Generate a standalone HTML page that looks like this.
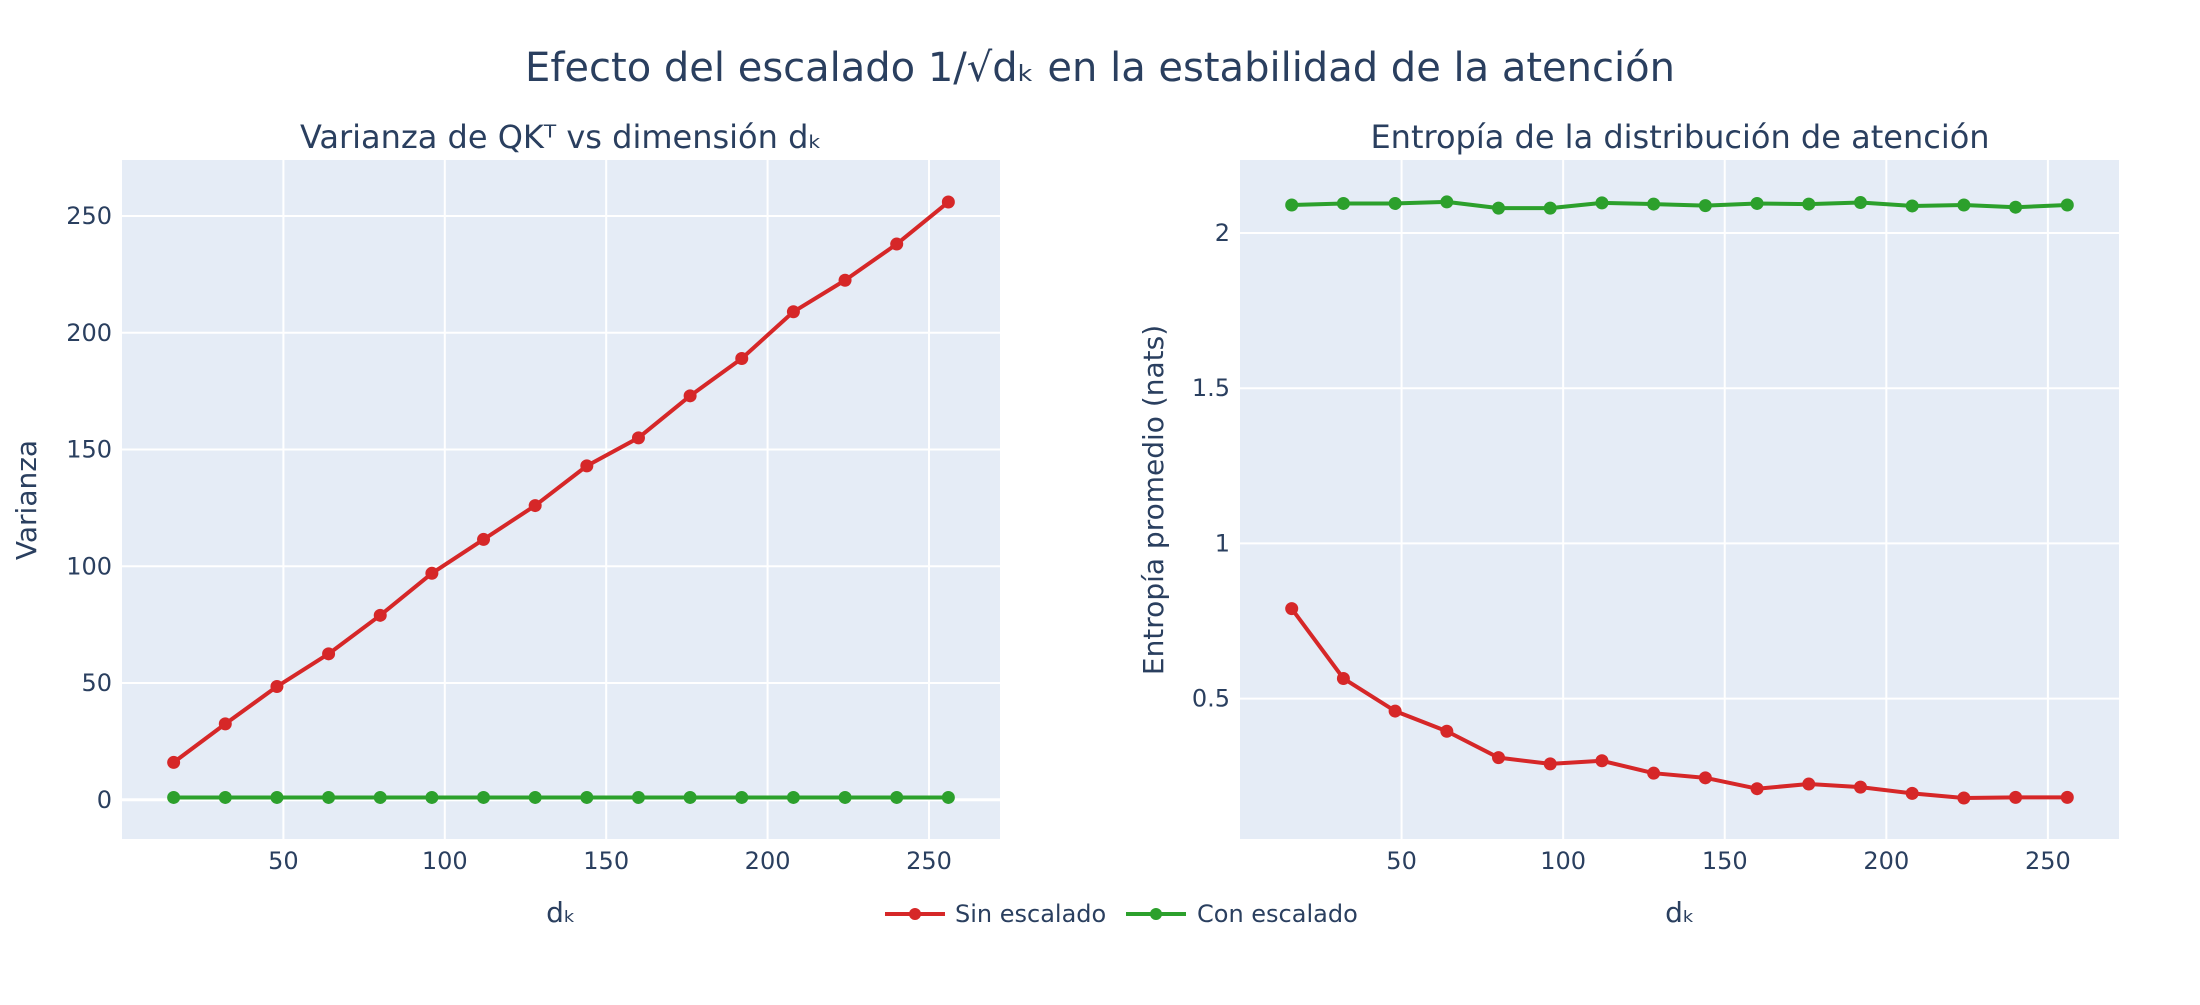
<!DOCTYPE html>
<html><head><meta charset="utf-8"><style>
html,body{margin:0;padding:0;background:#fff;}
svg text{font-family:"DejaVu Sans","Liberation Sans",sans-serif;fill:#2a3f5f;}
</style></head><body>
<svg id="chart" width="2200" height="1000" xmlns="http://www.w3.org/2000/svg">
<text x="1100" y="81" font-size="40" text-anchor="middle">Efecto del escalado 1/√dₖ en la estabilidad de la atención</text>
<text x="561" y="148" font-size="32" text-anchor="middle">Varianza de QKᵀ vs dimensión dₖ</text>
<text x="1680" y="148" font-size="32" text-anchor="middle">Entropía de la distribución de atención</text>
<g id="left"></g>
<g id="right"></g>
<text x="561" y="922" font-size="28" text-anchor="middle">dₖ</text>
<text x="1680" y="922" font-size="28" text-anchor="middle">dₖ</text>
<text x="0" y="0" font-size="28" text-anchor="middle" transform="translate(36,500) rotate(-90)">Varianza</text>
<text x="0" y="0" font-size="28" text-anchor="middle" transform="translate(1163,500) rotate(-90)">Entropía promedio (nats)</text>
<g>
<g>
<line x1="885" y1="914" x2="945" y2="914" stroke="#d62728" stroke-width="4"/>
<circle cx="915" cy="914" r="6" fill="#d62728"/>
<text x="955" y="922" font-size="24">Sin escalado</text>
</g>
<g>
<line x1="1126" y1="914" x2="1186" y2="914" stroke="#2ca02c" stroke-width="4"/>
<circle cx="1156" cy="914" r="6" fill="#2ca02c"/>
<text x="1197" y="922" font-size="24">Con escalado</text>
</g>
</g>
</svg>
<script>
const dk = [16,32,48,64,80,96,112,128,144,160,176,192,208,224,240,256];
const varSin = [16,32.5,48.5,62.5,79,97,111.5,126,143,155,173,189,209,222.5,238,256];
const varCon = [1,1,1,1,1,1,1,1,1,1,1,1,1,1,1,1];
const entCon = [2.09,2.095,2.095,2.10,2.08,2.08,2.097,2.093,2.088,2.095,2.093,2.098,2.087,2.09,2.083,2.09];
const entSin = [0.79,0.565,0.46,0.395,0.31,0.29,0.30,0.26,0.245,0.21,0.225,0.215,0.195,0.18,0.182,0.182];
const xTicks = [50,100,150,200,250];
const leftYTicks = [0,50,100,150,200,250];
const leftYLabels = ["0","50","100","150","200","250"];
const rightYTicks = [0.5,1,1.5,2];
const rightYLabels = ["0.5","1","1.5","2"];

const NS="http://www.w3.org/2000/svg";
function mk(tag, attrs, parent){const e=document.createElementNS(NS,tag);for(const k in attrs)e.setAttribute(k,attrs[k]);parent.appendChild(e);return e;}

function drawPlot(g, box, xr, yr, yTicks, yLabels, series){
  const sx=v=>box.x0+(v-xr[0])/(xr[1]-xr[0])*(box.x1-box.x0);
  const sy=v=>box.y1-(v-yr[0])/(yr[1]-yr[0])*(box.y1-box.y0);
  const bg=mk('rect',{x:box.x0,y:box.y0,width:box.x1-box.x0,height:box.y1-box.y0,fill:'#e5ecf6'},g);
  
  
  xTicks.forEach(t=>{
    const l=mk('line',{x1:sx(t),x2:sx(t),y1:box.y0,y2:box.y1,stroke:'#fff','stroke-width':2},g);
    
    
    const tx=mk('text',{x:sx(t),y:box.y1+30,'font-size':24,'text-anchor':'middle'},g);
    tx.textContent=t;
    
    
  });
  yTicks.forEach((t,i)=>{
    const l=mk('line',{x1:box.x0,x2:box.x1,y1:sy(t),y2:sy(t),stroke:'#fff','stroke-width':t===0?3:2},g);
    
    
    const tx=mk('text',{x:box.x0-10,y:sy(t)+8,'font-size':24,'text-anchor':'end'},g);
    tx.textContent=yLabels[i];
    
    
  });
  series.forEach(s=>{
    const pts=dk.map((x,i)=>sx(x)+','+sy(s.vals[i])).join(' ');
    const pl=mk('polyline',{points:pts,fill:'none',stroke:s.color,'stroke-width':4,'stroke-linejoin':'round'},g);
    
    
    dk.forEach((x,i)=>{
      const c=mk('circle',{cx:sx(x),cy:sy(s.vals[i]),r:6.5,fill:s.color},g);
      
      
    });
  });
}
drawPlot(document.getElementById('left'),{x0:122,x1:1000,y0:160,y1:839},[0,272],[-16.8,274],leftYTicks,leftYLabels,
  [{vals:varCon,color:'#2ca02c',name:'con-escalado'},{vals:varSin,color:'#d62728',name:'sin-escalado'}]);
drawPlot(document.getElementById('right'),{x0:1240,x1:2119,y0:160,y1:839},[0,272],[0.048,2.235],rightYTicks,rightYLabels,
  [{vals:entSin,color:'#d62728',name:'sin-escalado'},{vals:entCon,color:'#2ca02c',name:'con-escalado'}]);
</script>
</body></html>
